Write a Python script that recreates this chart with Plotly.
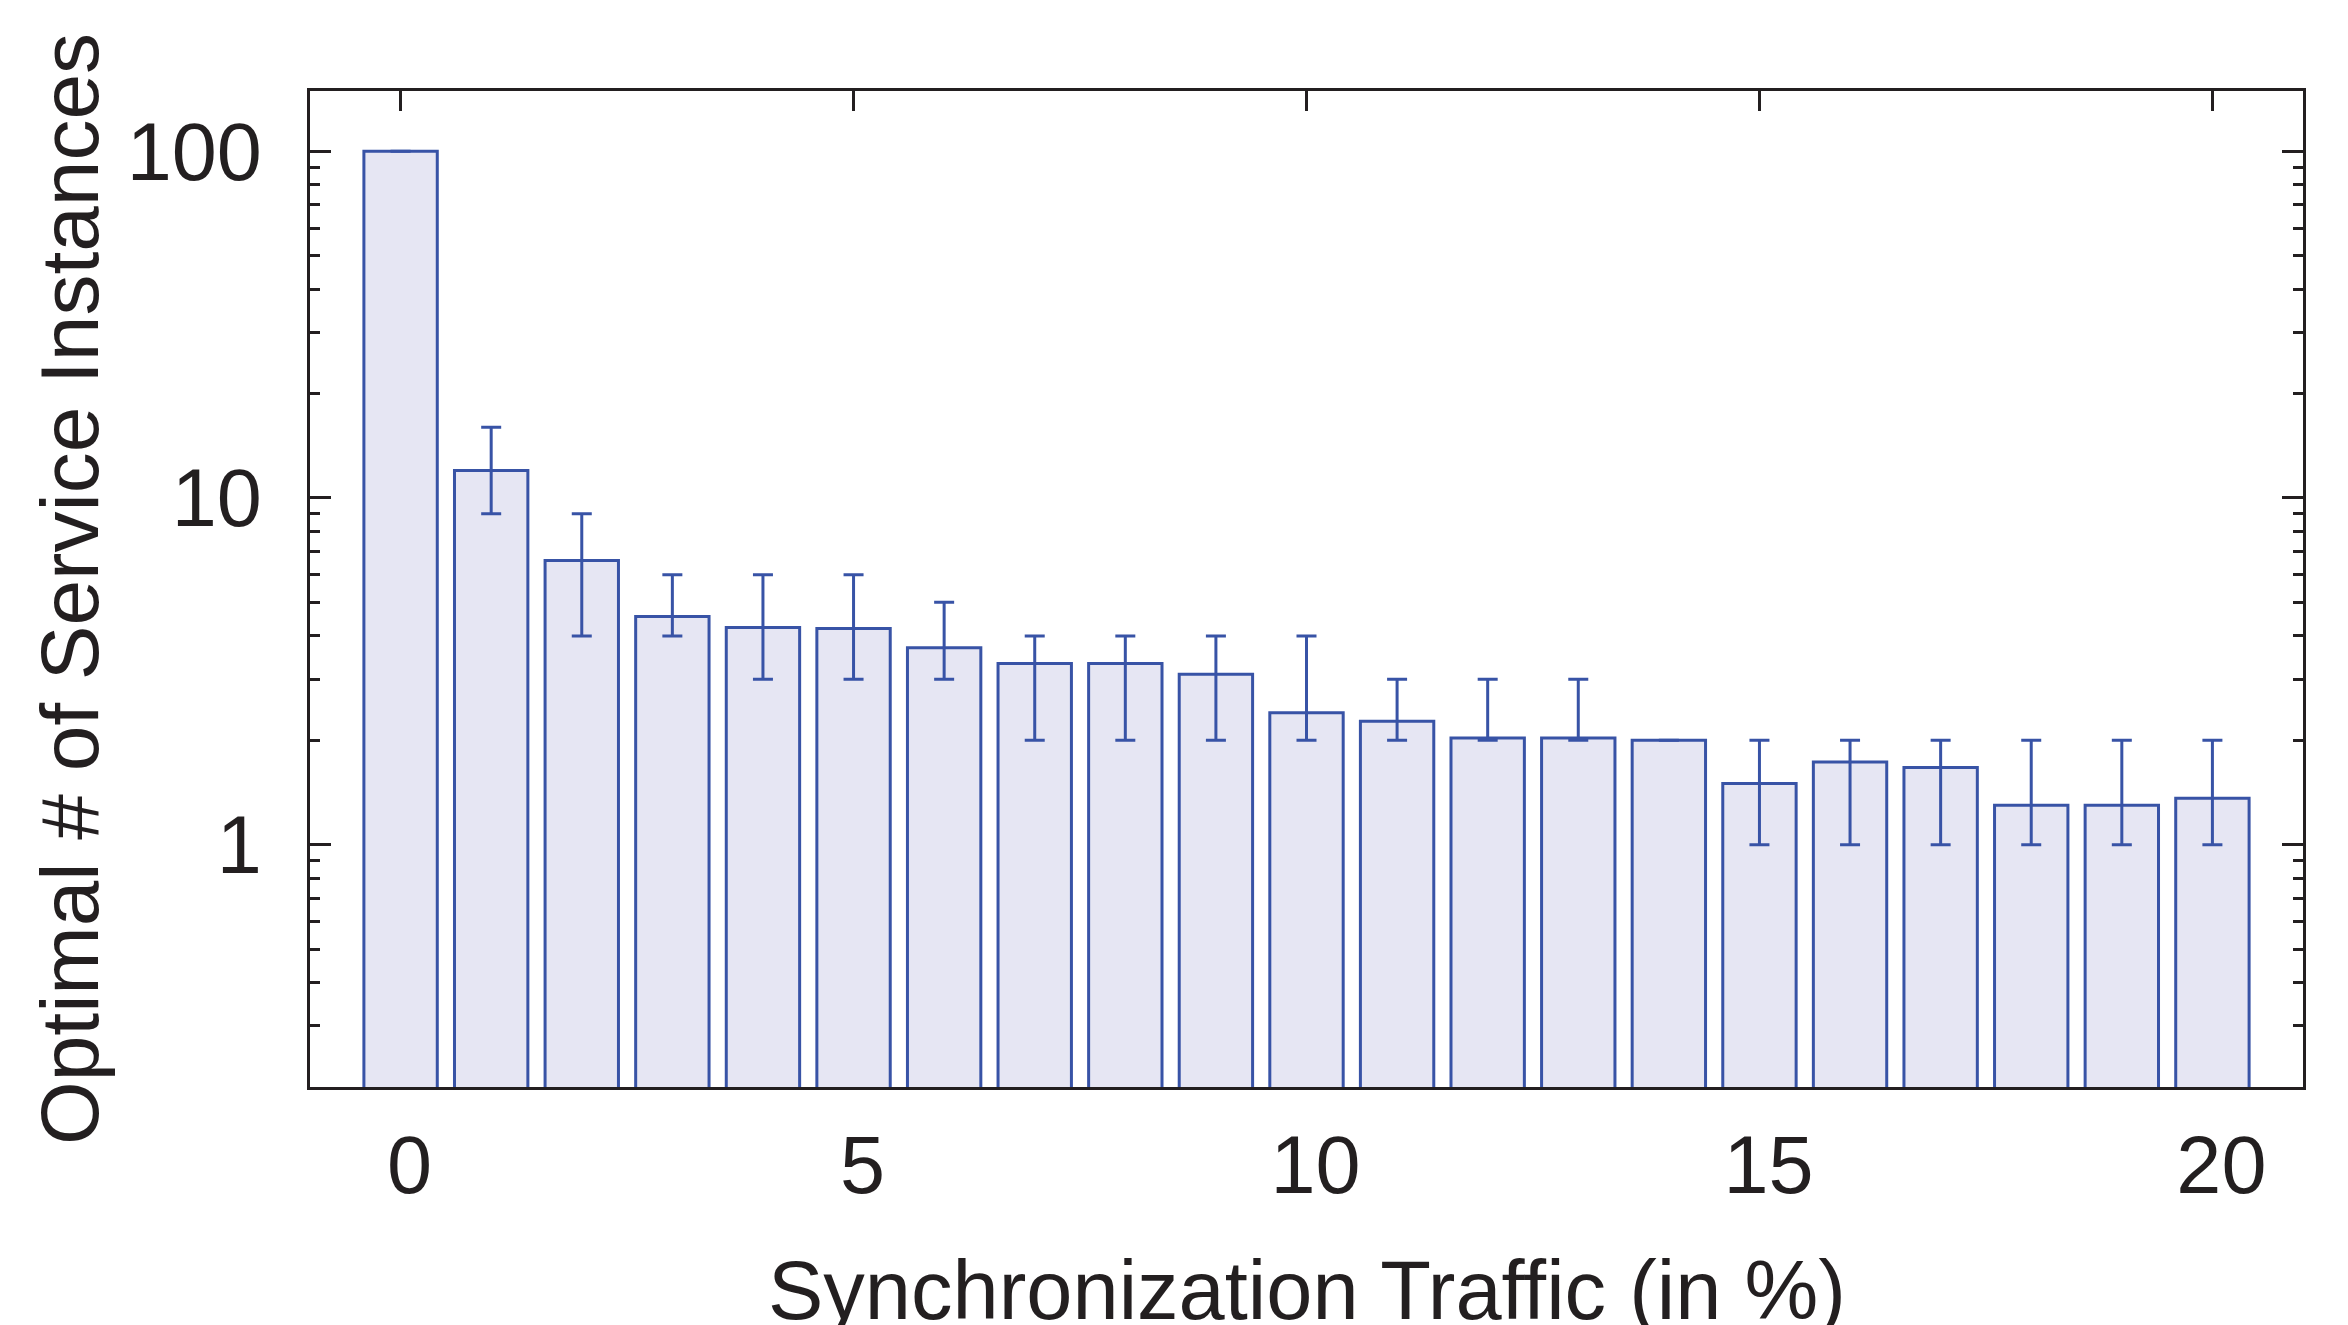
import plotly.graph_objects as go
import math

# Data
sync_traffic = list(range(0, 21))
mean_instances = [100, 12, 6.6, 4.55, 4.23, 4.2, 3.7, 3.33, 3.33, 3.1, 2.4,
                  2.27, 2.03, 2.03, 2.0, 1.5, 1.73, 1.67, 1.3, 1.3, 1.36]
upper_bound = [100, 16, 9, 6, 6, 6, 5, 4, 4, 4, 4, 3, 3, 3, 2, 2, 2, 2, 2, 2, 2]
lower_bound = [100, 9, 4, 4, 3, 3, 3, 2, 2, 2, 2, 2, 2, 2, 2, 1, 1, 1, 1, 1, 1]
x_tick_vals = [0, 5, 10, 15, 20]
y_tick_vals = [1, 10, 100]
y_tick_text = ["1", "10", "100"]

err_plus = [u - m for u, m in zip(upper_bound, mean_instances)]
err_minus = [m - l for m, l in zip(mean_instances, lower_bound)]

BLUE = "#3853A6"
FILL = "#E6E6F3"
INK = "#231F20"
FONT = "Liberation Sans, Arial, Helvetica, sans-serif"

fig = go.Figure()
fig.add_trace(go.Bar(
    x=sync_traffic,
    y=mean_instances,
    width=0.81,
    marker=dict(color=FILL, line=dict(color=BLUE, width=3)),
    error_y=dict(type="data", symmetric=False, array=err_plus, arrayminus=err_minus,
                 color=BLUE, thickness=3, width=10),
    showlegend=False,
))

fig.update_layout(
    width=2348, height=1325,
    margin=dict(l=302, r=53, t=83, b=246, autoexpand=False),
    plot_bgcolor="white", paper_bgcolor="white",
    font=dict(family=FONT, size=81, color=INK),
    xaxis=dict(
        range=[-1, 21], tickvals=x_tick_vals,
        showline=True, linecolor=INK, linewidth=3, mirror="ticks",
        ticks="inside", ticklen=20, tickwidth=3, tickcolor=INK,
        showgrid=False, zeroline=False, layer="below traces",
        tickfont=dict(size=81, color=INK), ticklabelstandoff=6,
        ticklabelshift=9,
    ),
    yaxis=dict(
        type="log", range=[math.log10(0.2), 2.1736],
        tickvals=y_tick_vals, ticktext=y_tick_text,
        showline=True, linecolor=INK, linewidth=3, mirror="ticks",
        ticks="inside", ticklen=21, tickwidth=3, tickcolor=INK,
        showgrid=False, zeroline=False,
        tickfont=dict(size=81, color=INK), ticklabelstandoff=29,
        minor=dict(dtick="D1", ticks="inside", ticklen=10, tickwidth=3,
                   tickcolor=INK, showgrid=False),
    ),
    annotations=[
        dict(text="Synchronization Traffic (in %)", xref="paper", yref="paper",
             x=0.5, y=-0.2048, xanchor="center", yanchor="middle",
             showarrow=False, font=dict(size=83, color=INK, family=FONT)),
        dict(text="Optimal # of Service Instances", xref="paper", yref="paper",
             x=-0.1194, y=0.5, xanchor="center", yanchor="middle", textangle=-90,
             xshift=-3, showarrow=False, font=dict(size=82, color=INK, family=FONT)),
    ],
)

fig.write_html("out.html")
